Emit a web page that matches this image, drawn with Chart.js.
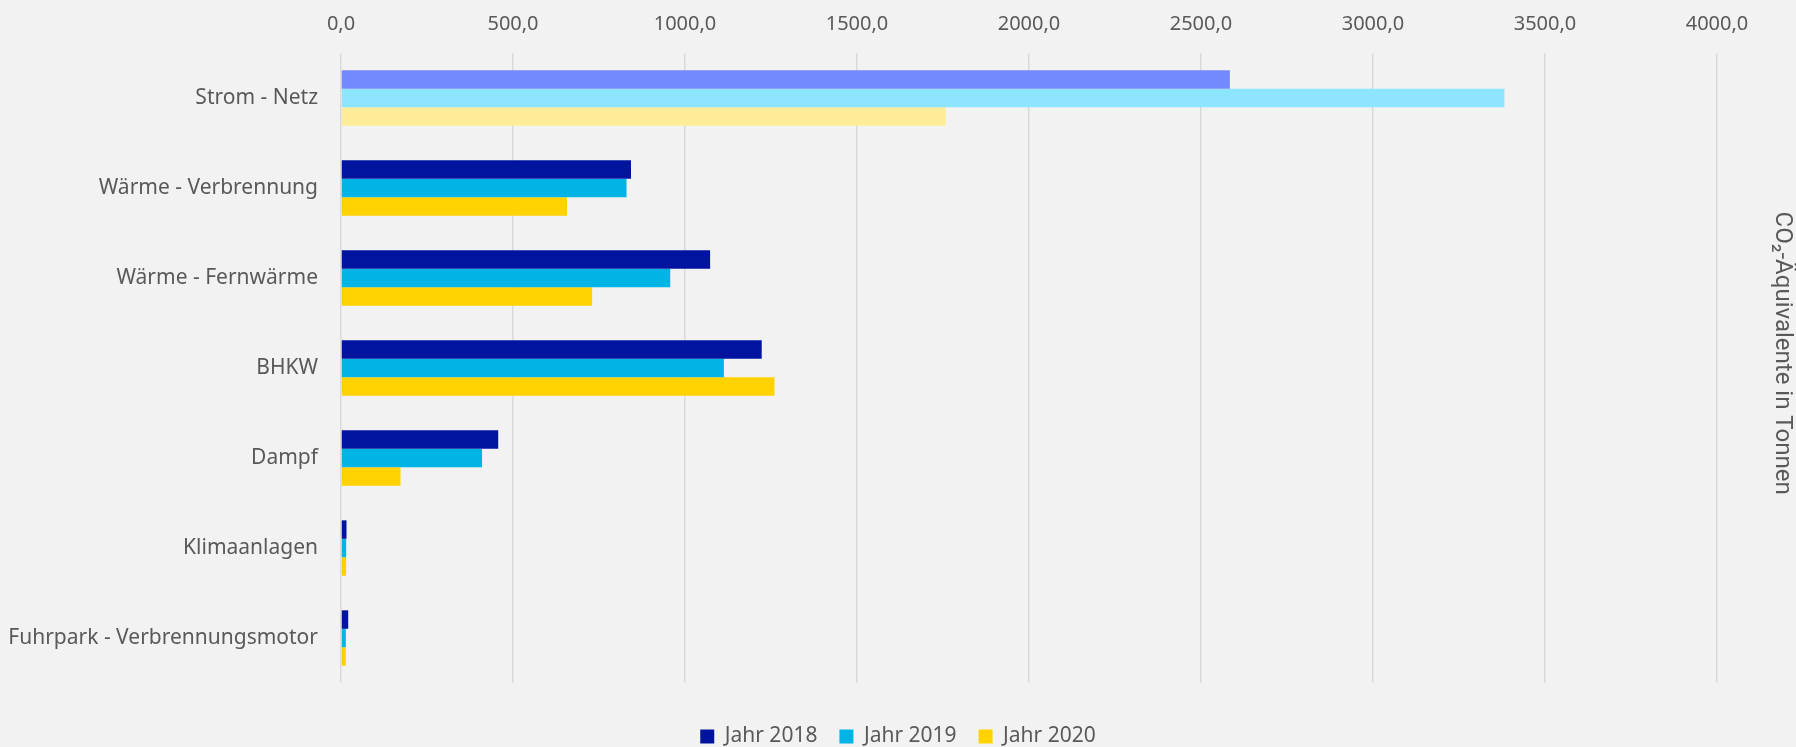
<!DOCTYPE html>
<html>
<head>
<meta charset="utf-8">
<script src="https://cdn.jsdelivr.net/npm/chart.js@4/dist/chart.umd.min.js"></script>
<style>
  html, body { margin: 0; padding: 0; background: #f2f2f2; }
  #wrap { width: 1796px; height: 747px; }
</style>
</head>
<body>
<div id="wrap"><canvas id="chart" width="1796" height="747"></canvas></div>
<script>
// --- DATA ---
const categories = [
    'Strom - Netz',
    'Wärme - Verbrennung',
    'Wärme - Fernwärme',
    'BHKW',
    'Dampf',
    'Klimaanlagen',
    'Fuhrpark - Verbrennungsmotor'
];
const seriesNames = ['Jahr 2018', 'Jahr 2019', 'Jahr 2020'];
const values2018 = [2584, 843, 1073, 1223, 457, 16, 21];
const values2019 = [3382, 830, 957, 1113, 410, 15, 14];
const values2020 = [1758, 657, 730, 1260, 173, 15, 14];
const xTicksMax = 4000;
const xTicksStep = 500;
// trailing spaces nudge the rotated title a bit upward, like in the original
const axisTitle = 'CO₂-Äquivalente in Tonnen\u00a0\u00a0\u00a0\u00a0\u00a0';

// first category is drawn highlighted (lighter tint)
const baseColors = ['#0014a0', '#00b4e6', '#ffd200'];
const lightColors = ['#7589ff', '#8ee5ff', '#ffec99'];

const TEXT = '#595959';
const FONT = "'Noto Sans', 'Open Sans', sans-serif";

function colorsFor(i) {
    return categories.map((c, idx) => idx === 0 ? lightColors[i] : baseColors[i]);
}

const allValues = [values2018, values2019, values2020];

const ctx = document.getElementById('chart').getContext('2d');
new Chart(ctx, {
    type: 'bar',
    data: {
        labels: categories,
        datasets: allValues.map((vals, i) => ({
            label: seriesNames[i],
            data: vals,
            backgroundColor: colorsFor(i),
            borderWidth: 0,
            barPercentage: 1.0,
            categoryPercentage: 0.615
        }))
    },
    options: {
        indexAxis: 'y',
        responsive: false,
        animation: false,
        // negative bottom padding pushes the legend down, the spacer axis keeps the plot in place
        layout: { padding: { bottom: -10 } },
        plugins: {
            legend: {
                position: 'bottom',
                labels: {
                    color: TEXT,
                    font: { family: FONT, size: 21 },
                    boxWidth: 14,
                    boxHeight: 14,
                    padding: 22,
                    generateLabels: (chart) => seriesNames.map((name, i) => ({
                        text: name,
                        fillStyle: baseColors[i],
                        strokeStyle: baseColors[i],
                        lineWidth: 0,
                        fontColor: TEXT,
                        datasetIndex: i
                    }))
                }
            },
            tooltip: { enabled: false }
        },
        scales: {
            x: {
                position: 'top',
                min: 0,
                max: xTicksMax,
                ticks: {
                    stepSize: xTicksStep,
                    color: TEXT,
                    font: { family: FONT, size: 20 },
                    padding: 17,
                    callback: (v) => v.toFixed(1).replace('.', ',')
                },
                grid: { color: '#d9d9d9', lineWidth: 1.5, drawTicks: false },
                border: { display: false },
                afterFit: (scale) => { scale.height = 53; }
            },
            spacer: {
                type: 'linear',
                axis: 'x',
                position: 'bottom',
                ticks: { display: false },
                grid: { display: false },
                border: { display: false },
                afterFit: (scale) => { scale.height = 21; }
            },
            y: {
                ticks: {
                    color: TEXT,
                    font: { family: FONT, size: 21 },
                    padding: 15
                },
                grid: { display: false },
                border: { display: false },
                afterFit: (scale) => { scale.width = 341; }
            },
            y2: {
                type: 'linear',
                position: 'right',
                ticks: { display: false },
                grid: { display: false },
                border: { display: false },
                title: {
                    display: true,
                    text: axisTitle,
                    color: TEXT,
                    font: { family: "Roboto, sans-serif", size: 24 },
                    padding: { top: 0, bottom: 0 }
                },
                afterFit: (scale) => { scale.width = 79; }
            }
        }
    }
});
</script>
</body>
</html>
